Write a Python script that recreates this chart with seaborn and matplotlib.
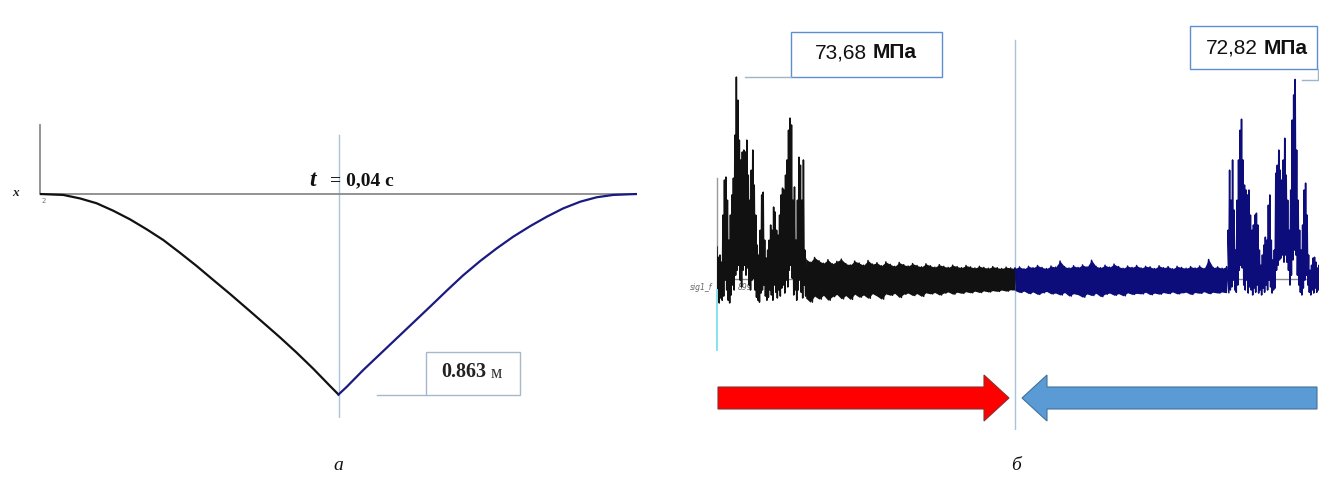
import numpy as np
import pandas as pd
import matplotlib
matplotlib.use("Agg")
import matplotlib.pyplot as plt
import seaborn as sns
from matplotlib.patches import Rectangle, FancyArrow
from matplotlib.transforms import Affine2D

# ---------------- data: panel a (deflection, m, vs time, s) ----------------
defl_t_left = [0.0, 0.00312, 0.00536, 0.0076, 0.00982, 0.01206, 0.0143, 0.01652,
               0.01876, 0.021, 0.02322, 0.02546, 0.0277, 0.02992, 0.03216, 0.0344,
               0.03662, 0.03886, 0.04]
defl_x_left = [0.0, -0.004, -0.019, -0.040, -0.072, -0.109, -0.152, -0.198,
               -0.253, -0.310, -0.370, -0.430, -0.492, -0.554, -0.617, -0.683,
               -0.752, -0.826, -0.863]
defl_t_right = [0.04, 0.0411, 0.0433, 0.0456, 0.0478, 0.05, 0.0523, 0.0545, 0.0567,
                0.059, 0.0612, 0.0634, 0.0657, 0.0679, 0.0701, 0.0724, 0.0746,
                0.0768, 0.0791, 0.08]
defl_x_right = [-0.863, -0.830, -0.758, -0.688, -0.621, -0.554, -0.484, -0.416, -0.350,
                -0.288, -0.234, -0.184, -0.138, -0.098, -0.062, -0.033, -0.014,
                -0.004, -0.001, 0.0]
defl_max_label = "0.863"
t_label = "0,04"

# ---------------- data: panel b (stress, MPa, vs time, ms) ----------------
# left burst: upper / lower envelope of the oscillation, one pair per 0.2 ms
burst_l_span = (0.0, 11.8)
burst_l_upper = [12.0, 8.3, 9.1, 6.5, 23.6, 36.3, 37.4, 29.0, 14.5, 23.6, 30.9, 37.0,
                 52.6, 73.68, 65.3, 50.8, 43.6, 46.5, 47.2, 46.5, 50.8, 38.1, 29.0, 39.9,
                 47.2, 34.5, 23.6, 12.7, 9.1, 18.1, 30.9, 31.9, 14.5, 8.0, 10.9, 14.5,
                 20.0, 18.1, 26.5, 24.7, 18.1, 16.3, 23.6, 30.9, 33.4, 32.7, 38.1, 43.6,
                 54.4, 58.8, 56.3, 29.0, 33.8, 14.5, 29.0, 44.6, 41.7, 29.0, 43.6, 10.9]
burst_l_lower = [-7.3, -8.3, -6.5, -7.3, -5.8, 0.0, -3.6, -7.3, -8.3, -5.4, -1.8, -3.6,
                 1.8, 3.6, 5.4, 0.0, -2.5, 3.6, 5.4, 1.8, 4.4, -1.8, -3.6, 0.0,
                 0.7, -3.6, -6.2, -7.3, -8.0, -4.7, -3.6, -1.8, -5.8, -7.3, -6.2, -3.6,
                 -5.4, -7.3, -1.8, -4.4, -6.5, -3.6, -5.8, -2.9, -1.8, -4.7, 0.0, -2.5,
                 3.6, 5.4, 0.7, -5.4, -3.6, -7.3, -3.6, 0.0, -4.4, -6.5, -1.8, -5.8]

noise_black_span = (11.9, 40.0)
noise_black_upper = [7.8, 6.5, 8.2, 7.0, 6.1, 7.4, 5.9, 6.8, 7.6, 6.0, 5.5, 6.9, 6.2, 5.4,
                     7.1, 5.8, 6.3, 5.2, 6.6, 5.7, 5.0, 6.4, 5.6, 5.1, 6.0, 5.3, 4.8, 5.9,
                     5.2, 4.7, 5.6, 5.0, 4.6, 5.4, 4.9, 4.5, 5.3, 4.8, 4.4, 5.0, 4.6, 4.3,
                     4.9, 4.5, 4.2, 4.7, 4.4, 4.3]
noise_black_lower = [-6.5, -8.0, -5.8, -6.9, -5.5, -7.3, -6.0, -5.2, -6.8, -5.6, -7.0, -5.1,
                     -6.2, -5.4, -6.6, -4.9, -5.8, -6.9, -5.0, -5.5, -4.8, -6.3, -5.1, -4.7,
                     -5.6, -4.9, -5.9, -4.6, -5.0, -4.5, -5.4, -4.7, -4.3, -5.1, -4.4, -4.8,
                     -4.2, -4.6, -4.0, -4.5, -3.9, -4.3, -3.8, -4.1, -3.6, -4.0, -3.5, -3.6]
noise_blue_span = (40.0, 68.4)
noise_blue_upper = [4.3, 4.8, 4.1, 5.0, 4.5, 5.3, 4.6, 4.2, 5.1, 4.7, 6.9, 4.9, 4.4, 5.2,
                    4.6, 5.5, 4.8, 7.2, 5.0, 4.5, 5.4, 4.7, 5.8, 4.9, 4.3, 5.1, 4.6, 5.3,
                    4.4, 5.0, 4.8, 4.2, 5.2, 4.5, 4.9, 4.1, 5.0, 4.6, 4.3, 4.9, 4.4, 5.1,
                    4.2, 7.5, 4.6, 4.8, 4.3, 4.9]
noise_blue_lower = [-3.8, -4.5, -4.0, -4.9, -4.3, -5.2, -4.6, -4.1, -5.0, -4.7, -5.4, -4.5,
                    -5.8, -4.9, -5.3, -6.2, -5.0, -5.6, -4.8, -6.0, -5.1, -4.7, -5.5, -4.9,
                    -5.7, -4.6, -5.2, -4.8, -5.0, -4.4, -5.3, -4.7, -5.1, -4.5, -4.9, -4.3,
                    -5.0, -4.6, -4.4, -5.2, -4.5, -4.8, -4.2, -4.9, -4.4, -4.7, -4.3, -4.6]

# right burst
burst_r_span = (68.6, 80.8)
burst_r_upper = [18.1, 39.9, 29.0, 43.6, 25.4, 10.9, 29.0, 43.6, 54.4, 58.4, 43.6, 34.5,
                 32.7, 30.9, 32.7, 23.6, 18.1, 20.0, 23.6, 24.3, 20.0, 10.9, 5.4, 9.1,
                 12.7, 15.6, 14.5, 27.2, 30.9, 14.5, 7.3, 10.9, 38.8, 41.7, 47.2, 39.9,
                 36.3, 43.6, 51.5, 38.1, 29.0, 18.1, 32.7, 58.1, 67.2, 72.82, 47.2, 29.0,
                 18.1, 10.9, 20.0, 32.7, 35.2, 23.6, 9.1, 3.6, 5.4, 8.0, 8.3, 6.5, 4.4, 5.4]
burst_r_lower = [-1.1, -3.6, -2.5, 0.0, -3.6, -4.4, -1.8, 3.6, 5.4, 4.4, -1.8, -3.6,
                 0.0, -4.7, -2.5, -3.6, -5.4, -2.9, -4.4, -1.8, -4.7, -3.6, -5.4, -2.9,
                 -4.4, -1.8, -3.6, 0.0, -2.5, -4.7, -3.6, -2.9, 3.6, 5.4, 7.3, 8.0,
                 9.1, 6.5, 9.1, 6.5, 3.6, -1.8, 1.8, 7.3, 10.9, 9.1, 1.8, -1.8,
                 -4.4, -5.4, -2.9, 0.0, 1.8, -1.8, -4.4, -5.4, -3.6, -4.7, -2.9, -4.4, -3.6, -2.9]
peak_labels = ["73,68", "72,82"]
unit_label = "МПа"

# ---------------- figure ----------------
W, H = 1319, 504
fig = plt.figure(figsize=(W / 100, H / 100), dpi=100)
fig.patch.set_facecolor("white")
pix = Affine2D().scale(1 / W, -1 / H).translate(0, 1) + fig.transFigure

SERIF = ["Liberation Serif", "DejaVu Serif"]
SANS = ["Liberation Sans", "DejaVu Sans"]
BLACK = "#111111"
NAVY = "#1a1a82"
SIGNAVY = "#0c0c7a"
GRAY = "#8a8a8a"
VLINE = "#a9c3dc"


def frac(x0, y0, x1, y1):
    return [x0 / W, 1 - y1 / H, (x1 - x0) / W, (y1 - y0) / H]


# ---- panel a ----
axL = fig.add_axes(frac(40, 125, 637, 418))
dfL = pd.DataFrame({
    "t": defl_t_left + defl_t_right,
    "x": defl_x_left + defl_x_right,
    "part": ["a"] * len(defl_t_left) + ["b"] * len(defl_t_right),
})
sns.lineplot(data=dfL, x="t", y="x", hue="part", palette={"a": BLACK, "b": NAVY},
             sort=False, estimator=None, legend=False, ax=axL, linewidth=1.6, zorder=3)
YT, YB = 0.297, -0.964
axL.set_xlim(0, 0.08)
axL.set_ylim(YB, YT)
axL.axis("off")
axL.axhline(0, color=GRAY, lw=1.3, zorder=2)
axL.axvline(0, ymin=-YB / (YT - YB), ymax=1, color=GRAY, lw=1.3, clip_on=False, zorder=2)
axL.axvline(0.04, ymin=0, ymax=(0.255 - YB) / (YT - YB), color=VLINE, lw=1.0, zorder=1)

# ---- panel b ----
axR = fig.add_axes(frac(717, 20, 1319, 430))


def zigzag(upper, lower, span):
    g = np.linspace(span[0], span[1], len(upper))
    dt = (g[1] - g[0]) / 2
    ts, vs = [], []
    for ti, u, l in zip(g, upper, lower):
        ts += [ti, ti + dt]
        vs += [u, l]
    return g, ts, vs


gL, tL, vL = zigzag(burst_l_upper, burst_l_lower, burst_l_span)
gB, tB, vB = zigzag(noise_black_upper, noise_black_lower, noise_black_span)
gN, tN, vN = zigzag(noise_blue_upper, noise_blue_lower, noise_blue_span)
gR, tR, vR = zigzag(burst_r_upper, burst_r_lower, burst_r_span)
dfR = pd.DataFrame({
    "t": tL + tB + tN + tR,
    "s": vL + vB + vN + vR,
    "part": ["k"] * (len(tL) + len(tB)) + ["b"] * (len(tN) + len(tR)),
})
axR.axhline(0.3, color=GRAY, lw=1.0, zorder=1)
axR.fill_between(gB, noise_black_lower, noise_black_upper, color=BLACK, lw=0, zorder=2)
axR.fill_between(gN, noise_blue_lower, noise_blue_upper, color=SIGNAVY, lw=0, zorder=2)
sns.lineplot(data=dfR, x="t", y="s", hue="part", palette={"k": BLACK, "b": SIGNAVY},
             sort=False, estimator=None, legend=False, ax=axR, linewidth=1.1, zorder=3)
SY0, SY1 = -54.4, 94.4
axR.set_xlim(0, 80.8)
axR.set_ylim(SY0, SY1)
axR.axis("off")
sp = SY1 - SY0
axR.axvline(40.0, ymin=0, ymax=(87.1 - SY0) / sp, color=VLINE, lw=1.0, zorder=1)
axR.axvline(0, ymin=(-8.0 - SY0) / sp, ymax=(37.0 - SY0) / sp, color="#9a9a9a",
            lw=1.0, clip_on=False, zorder=1)
axR.axvline(0, ymin=(-25.4 - SY0) / sp, ymax=(-3.6 - SY0) / sp, color="#86e3ec",
            lw=1.4, clip_on=False, zorder=4)
axR.text(690, 288, "sig1_f", transform=pix, fontsize=5.5, style="italic", color="#666666",
         va="center", ha="left", zorder=0, family=["DejaVu Sans"])
axR.text(738, 288, "899", transform=pix, fontsize=5.5, style="italic", color="#666666",
         va="center", ha="left", zorder=0, family=["DejaVu Sans"])

# ---- overlay (annotations, arrows, captions) in pixel space ----
ov = fig.add_axes([0, 0, 1, 1])
ov.set_xlim(0, W)
ov.set_ylim(H, 0)
ov.axis("off")
ov.patch.set_alpha(0)

# panel a texts
ov.text(12, 193, "x", fontsize=9.5, style="italic", weight="bold", family=SERIF,
        va="center", ha="left", color="#222222")
ov.text(42, 201, "2", fontsize=5, color="#777777", va="center", ha="left")
ov.text(309, 180, "t", fontsize=17, style="italic", weight="bold", family=SERIF,
        va="center", ha="left", color="#111111")
ov.text(330, 181, "= " + t_label + " с", fontsize=14, weight="bold", family=SERIF,
        va="center", ha="left", color="#111111")
ov.add_patch(Rectangle((426, 352), 94, 43, fill=True, facecolor="white",
                       edgecolor="#a7b8c9", lw=1.0))
ov.plot([377, 426], [395, 395], color="#a7b8c9", lw=1.0)
ov.text(486, 372, defl_max_label, fontsize=14.5, weight="bold", family=SERIF,
        va="center", ha="right", color="#222222")
ov.text(491, 373, "м", fontsize=13, family=SERIF, va="center", ha="left", color="#333333")

# panel b annotation boxes
ov.add_patch(Rectangle((791, 32), 151, 45, fill=True, facecolor="white",
                       edgecolor="#5b8fd0", lw=1.0))
ov.plot([745, 791], [77, 77], color="#9fb4c8", lw=1.0)
ov.text(867, 53, peak_labels[0], fontsize=15, family=SANS, va="center", ha="right",
        color="#111111")
ov.text(873, 53, unit_label, fontsize=15, family=SANS, weight="bold", va="center",
        ha="left", color="#111111")

ov.add_patch(Rectangle((1190, 26), 127, 43, fill=True, facecolor="white",
                       edgecolor="#5b8fd0", lw=1.0))
ov.plot([1302, 1318, 1318], [80, 80, 69], color="#9fb4c8", lw=1.0)
ov.text(1258, 48, peak_labels[1], fontsize=15, family=SANS, va="center", ha="right",
        color="#111111")
ov.text(1264, 48, unit_label, fontsize=15, family=SANS, weight="bold", va="center",
        ha="left", color="#111111")

# arrows
ov.add_patch(FancyArrow(718, 398, 291, 0, width=22, head_width=46, head_length=25,
                        length_includes_head=True, facecolor="#ff0000",
                        edgecolor="#8a3030", lw=0.8))
ov.add_patch(FancyArrow(1317, 398, -295, 0, width=22, head_width=46, head_length=25,
                        length_includes_head=True, facecolor="#5b9bd5",
                        edgecolor="#41719c", lw=0.8))

# captions
ov.text(338, 466, "а", fontsize=14, style="italic", family=SERIF, va="center",
        ha="center", color="#111111")
ov.text(1016, 466, "б", fontsize=14, style="italic", family=SERIF, va="center",
        ha="center", color="#111111")

fig.savefig("out.png", dpi=100, facecolor="white")
